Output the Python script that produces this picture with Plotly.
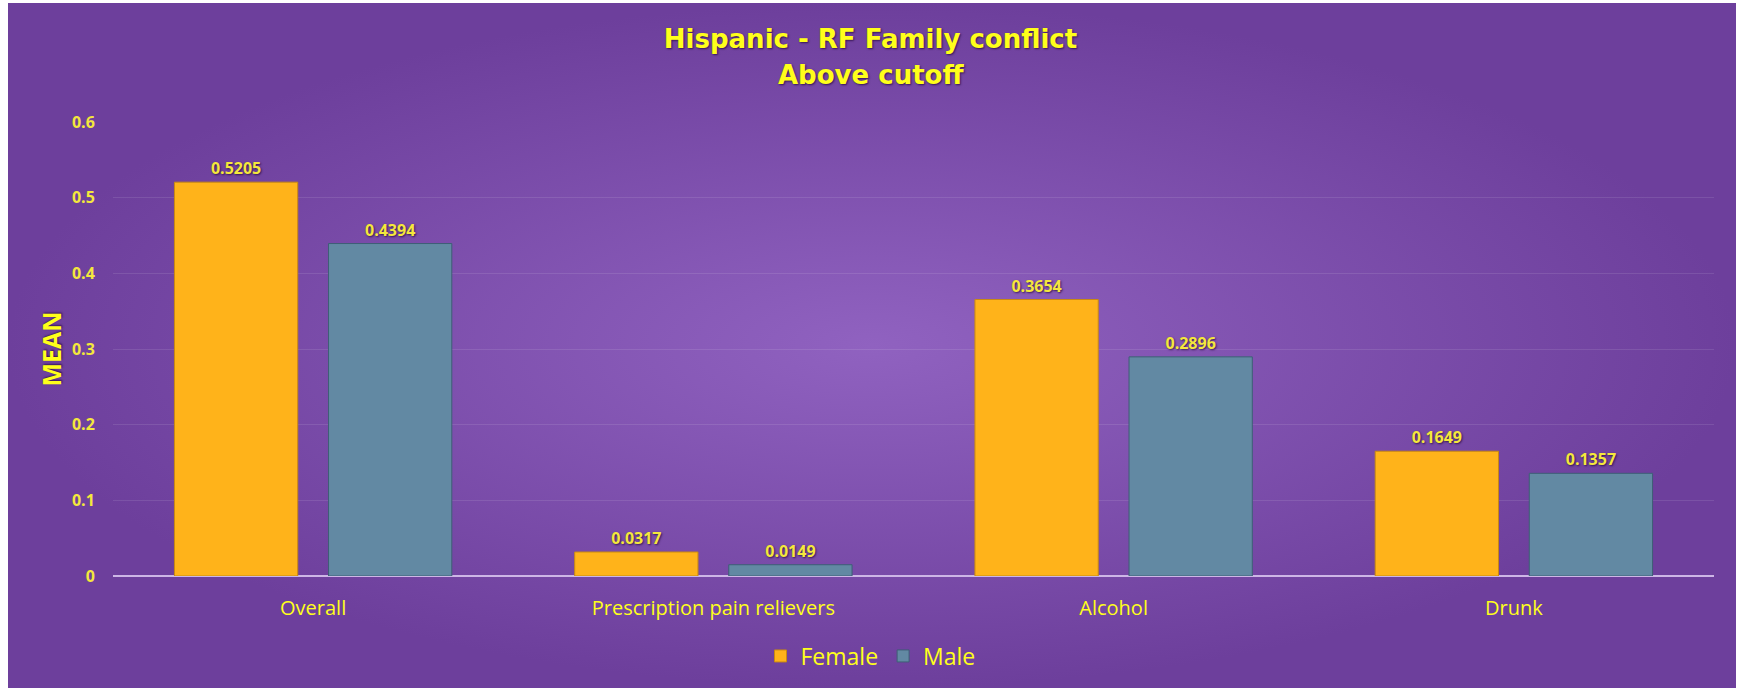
import plotly.graph_objects as go

# 資料
categories = ['Overall', 'Prescription pain relievers', 'Alcohol', 'Drunk']
female = [0.5205, 0.0317, 0.3654, 0.1649]
male = [0.4394, 0.0149, 0.2896, 0.1357]

W, H = 1741, 688
YELLOW = '#FFFF1A'
LABEL_YELLOW = '#F4E83C'
FONT = 'Open Sans, Lato, sans-serif'
SHADOW = '1px 1px 2px rgba(40,10,60,0.8)'
TITLE_FONT = dict(size=26, color=YELLOW, family='DejaVu Sans, Open Sans, sans-serif',
                  weight='bold', shadow=SHADOW)

fig = go.Figure()

# 背景：徑向漸層紫色
fig.add_trace(
    go.Scatter(
        x=[0, 1, 1, 0, 0], y=[0, 0, 1, 1, 0],
        mode='lines', fill='toself',
        line=dict(width=0),
        fillgradient=dict(type='radial',
                          colorscale=[[0, '#9062C0'], [1, '#6D3F9C']]),
        hoverinfo='skip', showlegend=False,
        xaxis='x', yaxis='y'
    )
)

fig.add_trace(
    go.Bar(
        x=categories, y=female, name='Female',
        marker=dict(color='#FFB31A', line=dict(color='#C98A10', width=1)),
        texttemplate='%{y:.4f}', textposition='outside',
        textfont=dict(color=LABEL_YELLOW, size=16, family=FONT, weight='bold', shadow=SHADOW),
        cliponaxis=False,
        xaxis='x2', yaxis='y2'
    )
)
fig.add_trace(
    go.Bar(
        x=categories, y=male, name='Male',
        marker=dict(color='#6289A3', line=dict(color='#3E5E76', width=1)),
        texttemplate='%{y:.4f}', textposition='outside',
        textfont=dict(color=LABEL_YELLOW, size=16, family=FONT, weight='bold', shadow=SHADOW),
        cliponaxis=False,
        xaxis='x2', yaxis='y2'
    )
)

fig.update_layout(
    width=W, height=H,
    margin=dict(l=0, r=0, t=0, b=0, autoexpand=False),
    paper_bgcolor='white',
    plot_bgcolor='rgba(0,0,0,0)',
    barmode='group',
    bargap=0.23,
    bargroupgap=0.2,
    font=dict(family=FONT, color=YELLOW),
    title=dict(
        text='Hispanic - RF Family conflict',
        x=0.5, xanchor='center', xref='paper',
        y=1 - 39 / H, yanchor='middle', yref='container',
        font=TITLE_FONT
    ),
    xaxis=dict(domain=[8 / W, 1736 / W], range=[0, 1], visible=False, fixedrange=True),
    yaxis=dict(domain=[0, 685 / H], range=[0, 1], visible=False, fixedrange=True),
    xaxis2=dict(
        domain=[113 / W, 1714 / W], anchor='y2',
        showgrid=False, showline=False, zeroline=False,
        ticks='outside', ticklen=14, tickcolor='rgba(0,0,0,0)',
        tickfont=dict(size=20, color=YELLOW, family=FONT)
    ),
    yaxis2=dict(
        domain=[(H - 576) / H, (H - 122) / H], anchor='x2',
        range=[0, 0.6], dtick=0.1,
        showgrid=True, gridcolor='rgba(255,255,255,0.10)', gridwidth=1,
        zeroline=True, zerolinecolor='#CDB6E6', zerolinewidth=2,
        showline=False,
        ticks='outside', ticklen=14, tickcolor='rgba(0,0,0,0)',
        tickfont=dict(size=16, color=LABEL_YELLOW, family=FONT, weight='bold'),
        title=dict(text='MEAN', standoff=3,
                   font=dict(size=25, color=YELLOW, family=FONT, weight='bold', shadow=SHADOW))
    ),
    legend=dict(
        orientation='h', x=0.5, xanchor='center', y=(H - 656) / H, yanchor='middle',
        font=dict(size=23, color=YELLOW, family=FONT),
        bgcolor='rgba(0,0,0,0)', itemwidth=30
    ),
    showlegend=True
)

# 標題第二行
fig.add_annotation(
    text='Above cutoff', xref='paper', yref='paper',
    x=0.5, y=1 - 75 / H, xanchor='center', yanchor='middle',
    showarrow=False, font=TITLE_FONT
)

fig.write_html(
    "out.html",
    config={'displayModeBar': False},
    post_script="document.body.style.margin='0';document.body.style.overflow='hidden';"
)
